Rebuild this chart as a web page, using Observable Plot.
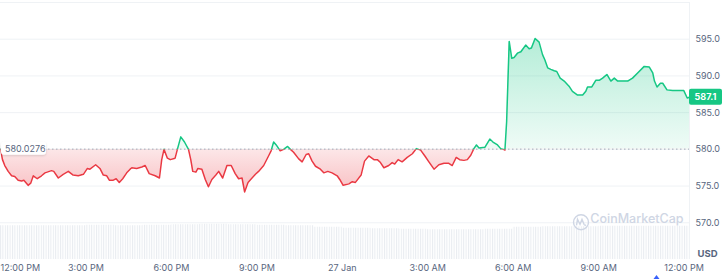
<!DOCTYPE html>
<html><head><meta charset="utf-8">
<script src="https://cdn.jsdelivr.net/npm/d3@7"></script>
<script src="https://cdn.jsdelivr.net/npm/@observablehq/plot@0.6"></script>
<style>body{margin:0;background:#fff;} #chart svg{display:block}</style>
</head><body><div id="chart"></div>
<script>
// hours after 12:00 PM, 26 Jan
const hours = [0,0.07,0.15,0.27,0.39,0.50,0.62,0.74,0.82,0.97,
1.06,1.15,1.29,1.44,1.56,1.79,1.87,2.03,2.20,2.38,
2.55,2.73,2.91,3.05,3.14,3.34,3.49,3.61,3.73,3.82,
3.96,4.06,4.17,4.29,4.43,4.55,4.61,4.78,4.96,5.08,
5.22,5.43,5.58,5.66,5.74,5.86,5.96,6.13,6.21,6.33,
6.46,6.60,6.68,6.75,6.86,6.93,7.07,7.19,7.30,7.42,
7.56,7.66,7.80,7.95,8.10,8.24,8.36,8.48,8.57,8.69,
8.83,8.95,9.06,9.24,9.41,9.50,9.59,9.68,9.82,9.94,
10.08,10.18,10.29,10.47,10.59,10.73,10.82,10.94,11.06,11.23,
11.35,11.49,11.64,11.82,11.91,12.03,12.23,12.35,12.46,12.66,
12.78,12.93,13.11,13.23,13.34,13.46,13.63,13.75,13.84,13.96,
14.10,14.28,14.46,14.60,14.75,14.90,15.04,15.22,15.39,15.57,
15.74,15.86,16.00,16.12,16.27,16.39,16.51,16.62,16.71,16.80,
17.01,17.18,17.29,17.45,17.56,17.66,17.71,17.77,17.86,17.95,
18.03,18.15,18.27,18.44,18.56,18.64,18.77,18.91,19.03,19.11,
19.21,19.32,19.44,19.53,19.65,19.79,19.96,20.08,20.26,20.44,
20.55,20.61,20.76,20.90,21.02,21.14,21.29,21.43,21.55,21.67,
22.02,22.19,22.37,22.60,22.78,22.90,22.96,23.05,23.17,23.25,
23.40,23.60,23.78,23.99,24.11,24.19];
const prices = [580.0,578.6,577.8,577.0,576.4,576.3,575.8,575.7,575.8,575.1,
575.4,576.4,576.0,576.4,576.8,577.1,577.0,576.1,576.6,577.0,
576.5,576.4,576.6,577.4,577.3,577.9,577.4,576.5,576.4,575.8,
575.8,576.0,575.5,576.0,576.8,577.3,577.5,577.4,577.6,577.8,
576.7,576.4,576.1,578.6,580.0,578.8,578.6,578.8,580.0,581.7,
581.0,580.0,578.6,577.0,576.9,577.4,577.3,575.9,574.9,575.9,
576.5,577.0,576.1,577.8,577.8,576.7,576.0,576.1,574.2,575.5,
576.1,576.6,577.0,577.8,579.1,579.8,581.0,580.6,579.8,580.0,
580.4,580.0,579.6,578.7,578.3,579.3,579.4,578.4,577.7,577.3,
576.8,577.0,576.8,576.4,575.9,575.1,575.3,575.6,575.5,576.5,
578.4,579.1,578.6,578.6,578.2,577.5,577.8,578.2,578.0,578.6,
578.3,578.9,579.4,580.1,579.9,579.1,578.3,577.3,577.9,578.1,
578.1,577.8,578.9,578.6,578.5,578.6,579.2,580.1,580.6,580.2,
580.3,581.4,581.0,580.6,580.1,580.0,579.9,583.8,594.7,592.4,
592.5,593.1,593.3,594.2,593.7,593.8,595.1,594.6,592.9,592.2,
591.1,590.9,590.7,590.6,589.7,589.3,588.6,587.9,587.4,587.4,
587.9,588.5,588.5,589.4,589.4,589.7,590.2,589.3,589.7,589.3,
589.3,589.7,590.4,591.3,591.2,590.4,589.3,588.5,589.0,589.0,
588.1,588.0,588.0,588.0,587.0,587.1];
const baseline = 580.0276;
const lastPrice = 587.1;
const yTicks = [570, 575, 580, 585, 590, 595];
const xTickHours = [0, 3, 6, 9, 12, 15, 18, 21, 24];
const xTickLabels = ["12:00 PM","3:00 PM","6:00 PM","9:00 PM","27 Jan","3:00 AM","6:00 AM","9:00 AM","12:00 PM"];
const volHours = [0,1,2,3,4,5,6,7,8,9,10,11,12,13,14,15,16,17,18,19,20,21,22,23,24.19];
const volumes = [34,34,34,34.5,34,34.5,35,35.5,35,34.5,34,32.5,31.5,31,30.5,30,30,30.5,32.5,33,33,33.5,33.5,33.5,33.5];

const data = hours.map((h, i) => ({h, p: prices[i]}));
const vol = volHours.map((h, i) => ({h, v: volumes[i]}));
const yMin = 565, yMax = 600;
const vmax = d3.max(volumes);
const volSpan = 4.8;
const textColor = "#58667e";

const chart = Plot.plot({
  width: 727, height: 280,
  marginLeft: 0, marginRight: 38, marginTop: 2, marginBottom: 21,
  x: {domain: [0, 24.19], axis: null},
  y: {domain: [yMin, yMax], axis: null},
  style: {fontFamily: "Inter, sans-serif", background: "#fff", overflow: "visible"},
  marks: [
    Plot.ruleY(yTicks, {stroke: "#eff2f5"}),
    Plot.ruleY([yMax], {stroke: "#eff2f5"}),
    Plot.ruleX([24.19], {stroke: "#eff2f5"}),
    Plot.areaY(vol, {x: "h", y1: yMin, y2: d => yMin + d.v / vmax * volSpan, curve: "step-after", fill: "#eee"}),
    Plot.areaY(data, {x: "h", y1: baseline, y2: "p", fill: "#fcc"}),
    Plot.areaY(data, {x: "h", y1: baseline, y2: "p", fill: "#cfc"}),
    Plot.ruleY([baseline], {stroke: "#a3abb9", strokeDasharray: "1.5,2.5"}),
    Plot.line(data, {x: "h", y: "p", stroke: "#ea3943", strokeWidth: 1.5}),
    Plot.line(data, {x: "h", y: "p", stroke: "#16c784", strokeWidth: 1.5}),
    Plot.text(yTicks, {y: d => d, text: d => d.toFixed(1), frameAnchor: "right", dx: 6, textAnchor: "start", fill: textColor, fontSize: 9}),
    Plot.text(["USD"], {text: d => d, frameAnchor: "bottom-right", dx: 8, dy: -3, textAnchor: "start", fill: textColor, fontSize: 9.5, fontWeight: "bold"}),
    Plot.text(xTickHours.slice(1), {x: d => d, text: (d, i) => xTickLabels[i + 1], frameAnchor: "bottom", dy: 11, fill: textColor, fontSize: 9}),
    Plot.text([xTickHours[0]], {x: d => d, text: () => xTickLabels[0], frameAnchor: "bottom", dy: 11, textAnchor: "start", fill: textColor, fontSize: 9}),
    Plot.text(["CoinMarketCap"], {text: d => d, frameAnchor: "bottom-right", dx: -6, dy: -37, textAnchor: "end", fill: "#cfd6e4", fontSize: 12.5, fontWeight: 500})
  ]
});

const svg = d3.select(chart);
const ys = chart.scale("y"), xs = chart.scale("x");
const yb = ys.apply(baseline);
const xR = xs.range[1];
const defs = svg.insert("defs", ":first-child");

const gG = defs.append("linearGradient").attr("id", "gradGreen").attr("gradientUnits", "userSpaceOnUse")
  .attr("x1", 0).attr("x2", 0).attr("y1", ys.apply(d3.max(prices))).attr("y2", yb);
gG.append("stop").attr("offset", 0).attr("stop-color", "#16c784").attr("stop-opacity", 0.32);
gG.append("stop").attr("offset", 1).attr("stop-color", "#16c784").attr("stop-opacity", 0.07);
const gR = defs.append("linearGradient").attr("id", "gradRed").attr("gradientUnits", "userSpaceOnUse")
  .attr("x1", 0).attr("x2", 0).attr("y1", yb).attr("y2", ys.apply(d3.min(prices)));
gR.append("stop").attr("offset", 0).attr("stop-color", "#ea3943").attr("stop-opacity", 0.12);
gR.append("stop").attr("offset", 1).attr("stop-color", "#ea3943").attr("stop-opacity", 0.32);

const pat = defs.append("pattern").attr("id", "volStripes").attr("patternUnits", "userSpaceOnUse").attr("width", 2.4).attr("height", 4);
pat.append("rect").attr("width", 1).attr("height", 4).attr("fill", "#e8ebf0");

defs.append("clipPath").attr("id", "clipAbove").append("rect").attr("x", 0).attr("y", 0).attr("width", 727).attr("height", yb);
defs.append("clipPath").attr("id", "clipBelow").append("rect").attr("x", 0).attr("y", yb).attr("width", 727).attr("height", 280 - yb);

const sh = defs.append("filter").attr("id", "shadow").attr("x", "-20%").attr("y", "-40%").attr("width", "140%").attr("height", "180%");
sh.append("feDropShadow").attr("dx", 0).attr("dy", 1).attr("stdDeviation", 1).attr("flood-color", "#000").attr("flood-opacity", 0.15);

const areas = svg.selectAll('g[aria-label="area"]').nodes();
d3.select(areas[0]).selectAll("path").attr("fill", "url(#volStripes)");
d3.select(areas[1]).attr("clip-path", "url(#clipBelow)").selectAll("path").attr("fill", "url(#gradRed)");
d3.select(areas[2]).attr("clip-path", "url(#clipAbove)").selectAll("path").attr("fill", "url(#gradGreen)");
const lines = svg.selectAll('g[aria-label="line"]').nodes();
d3.select(lines[0]).attr("clip-path", "url(#clipBelow)");
d3.select(lines[1]).attr("clip-path", "url(#clipAbove)");

// baseline label
svg.append("rect").attr("x", 1).attr("y", yb - 7).attr("width", 45).attr("height", 13).attr("rx", 3)
  .attr("fill", "#fff").attr("filter", "url(#shadow)");
svg.append("text").attr("x", 5).attr("y", yb - 0.5).attr("dominant-baseline", "central").attr("text-anchor", "start")
  .attr("fill", textColor).attr("font-size", 9).attr("font-family", "Inter, sans-serif").text(baseline.toFixed(4));

// price tag
const yl = ys.apply(lastPrice);
svg.append("rect").attr("x", xR).attr("y", yl - 8).attr("width", 33).attr("height", 16).attr("rx", 2).attr("fill", "#16c784");
svg.append("text").attr("x", xR + 16.5).attr("y", yl).attr("text-anchor", "middle").attr("dominant-baseline", "central")
  .attr("fill", "#fff").attr("font-size", 9).attr("font-weight", "bold").attr("font-family", "Inter, sans-serif").text(lastPrice.toFixed(1));

// watermark logo
const lx = xR - 108, ly = ys.apply(570);
const logo = svg.append("g").attr("transform", `translate(${lx},${ly})`).attr("fill", "none").attr("stroke", "#cfd6e4").attr("stroke-width", 1.4);
logo.append("circle").attr("r", 7.5);
logo.append("path").attr("d", "M-4.5,3 L-3.5,-3 L-1,2 L1,-3 L3,2 Q4,3.5 5,2.5");

// small event marker
svg.append("path").attr("transform", `translate(${xs.apply(23.05)},279)`).attr("d", "M-3,0 L0,-4 L3,0 Z").attr("fill", "#3861fb");

document.getElementById("chart").appendChild(chart);
</script>
</body></html>
